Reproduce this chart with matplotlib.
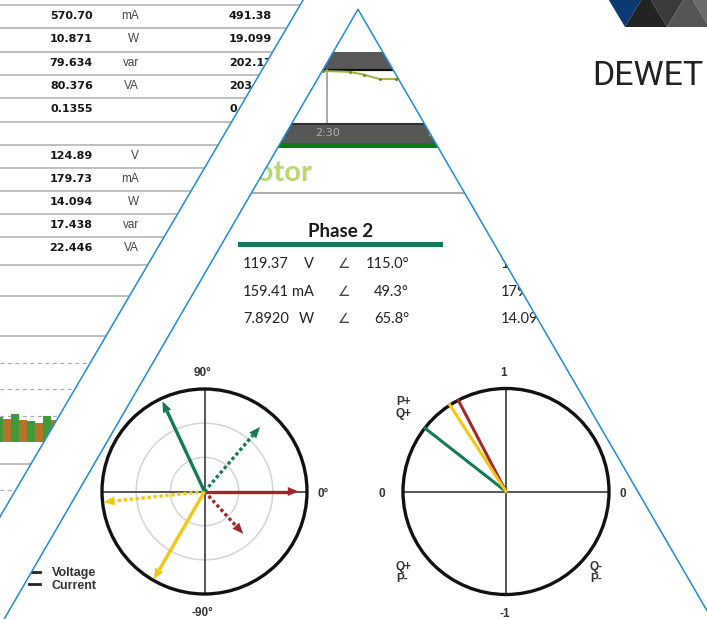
import numpy as np
import matplotlib.pyplot as plt
from matplotlib.patches import Polygon, Circle, Rectangle

# ---- left table (screenshot behind the first diagonal) ----
tbl1_vals = ["570.70", "10.871", "79.634", "80.376", "0.1355"]
tbl1_units = ["mA", "W", "var", "VA", ""]
tbl1_right = ["491.38", "19.099", "202.17", "203.08", "0.0941"]
tbl2_vals = ["124.89", "179.73", "14.094", "17.438", "22.446"]
tbl2_units = ["V", "mA", "W", "var", "VA"]

# small bar chart (harmonics) under the table
bar_heights = [25, 23, 28, 22, 21, 19, 26, 22]
bar_colors = ["#3d9a36", "#b5722a"] * 4

# trend strip at the top of the triangle
trend_t = [0, 1.0, 1.5, 2.1, 2.7, 3.5]
trend_v = [0.0, 0.05, 0.2, 0.45, 0.45, 0.45]

# Phase 2 readout + clipped Phase 3 column
ph2_vals = ["119.37", "159.41", "7.8920"]
ph2_units = ["V", "mA", "W"]
ph2_angles = ["115.0°", "49.3°", "65.8°"]
ph3_vals = ["124.89", "179.73", "14.094"]
ph3_units = ["V", "mA", "W"]

# phasor diagram: L1 red, L2 green, L3 yellow
phase_colors = ["#a0282a", "#137a56", "#f2c714"]
volt_ang = [0, 115.0, -120]
volt_mag = [0.92, 0.97, 0.99]
curr_ang = [-47.5, 49.3, -174]
curr_mag = [0.56, 0.83, 0.99]

# power factor diagram (same phase order)
pf_ang = [117.6, 142.0, 123.0]

W, H = 707, 619
fig = plt.figure(figsize=(W / 100, H / 100), dpi=100)
ax = fig.add_axes([0, 0, 1, 1])
ax.set_xlim(0, W)
ax.set_ylim(H, 0)
ax.axis('off')

blue = '#1f8ad8'
apex = (358, 9.3)
sl = 0.58
a_top, a_slope = 306, -0.5865   # first diagonal: x = a_top + a_slope * (y + 5)

L = dict(zorder=1)     # left screenshot
T = dict(zorder=3)     # triangle screenshot

tri_clip = Polygon([apex, (apex[0] + sl * 671, 680), (apex[0] - sl * 671, 680)],
                   closed=True, transform=ax.transData)

# ---------------- left screenshot ----------------
rows1 = [16, 39, 63, 86, 109]
rows2 = [156, 179, 202, 225, 248]
num = dict(fontsize=8, fontweight='bold', family='DejaVu Sans', color='#151515', **L)
unit = dict(fontsize=8.5, family='Liberation Sans', color='#444444', **L)
for y, v, u, r in zip(rows1, tbl1_vals, tbl1_units, tbl1_right):
    ax.text(93, y, v, ha='right', va='center', **num)
    ax.text(139, y, u, ha='right', va='center', **unit)
    ax.text(272, y, r, ha='right', va='center', **num)
for y, v, u in zip(rows2, tbl2_vals, tbl2_units):
    ax.text(93, y, v, ha='right', va='center', **num)
    ax.text(139, y, u, ha='right', va='center', **unit)

for y in [5, 28, 52, 75, 98, 122, 145, 168, 191, 214, 237, 265, 296, 336, 464]:
    ax.plot([0, 320], [y, y], color='#b4b4b4', lw=1.2, **L)
for y in [363, 389, 416, 490]:
    ax.plot([0, 320], [y, y], color='#a8a8a8', lw=0.9, ls=(0, (3, 3)), **L)

bar_x = [-1 + 8 * i for i in range(len(bar_heights))]
ax.bar(bar_x, [-h for h in bar_heights], bottom=442, width=8,
       color=bar_colors, linewidth=0, **L)

# white mask: everything right of the first diagonal
ax.add_patch(Polygon([(a_top, -5), (W + 20, -5), (W + 20, 680), (a_top + a_slope * 685, 680)],
                     closed=True, color='white', lw=0, zorder=2))

# ---------------- triangle screenshot ----------------
ax.add_patch(Rectangle((0, 52), W, 18, color='#585858', lw=0, **T))
ax.plot([0, W], [70, 70], color='#111111', lw=1.6, **T)
ax.plot([327, 327], [70, 123], color='#9a9a9a', lw=1.2, **T)
tx = [323 + 27 * t for t in trend_t]
ty = [71 + 18 * v for v in trend_v]
ax.plot(tx, ty, color='#9cb43c', lw=1.4, marker='o', ms=1.2, mfc='#6d8a28', mec='#6d8a28', **T)
ax.add_patch(Rectangle((0, 123), W, 20, color='#575757', lw=0, **T))
ax.plot([0, W], [123.5, 123.5], color='#333333', lw=1.5, **T)
ax.add_patch(Rectangle((0, 143), W, 4.5, color='#0c7c10', lw=0, **T))
ax.text(327, 133, "2:30", ha='center', va='center', fontsize=8,
        family='DejaVu Sans', color='#b0b0b0', **T)
ax.text(427, 133, "2:40", ha='left', va='center', fontsize=8,
        family='DejaVu Sans', color='#b0b0b0', **T)

ax.text(312, 181, "Motor", ha='right', va='baseline', fontsize=21, fontweight='bold',
        family='Lato', color='#b8d96c', **T)
ax.plot([0, W], [193, 193], color='#ababab', lw=1.4, **T)

ax.text(341, 237, "Phase 2", ha='center', va='baseline', fontsize=13.5, fontweight='bold',
        family='Lato', color='#1a1a1a', **T)
ax.add_patch(Rectangle((238, 242), 205, 5, color='#127a5a', lw=0, **T))

row_base = [268, 296, 323]
rd = dict(fontsize=10.5, family=['Lato', 'DejaVu Sans'], color='#222222', va='baseline', **T)
for y, v, u, a in zip(row_base, ph2_vals, ph2_units, ph2_angles):
    ax.text(243, y, v, ha='left', **rd)
    ax.text(314, y, u, ha='right', **rd)
    ax.text(344, y, "∠", ha='center', **dict(rd, fontsize=10, color='#444444'))
    ax.text(409, y, a, ha='right', **rd)
for y, v, u in zip(row_base, ph3_vals, ph3_units):
    ax.text(501, y, v, ha='left', **rd)
    ax.text(572, y, u, ha='right', **rd)


def vec(cx, cy, R, ang, mag, color, dotted):
    th = np.deg2rad(ang)
    ux, uy = np.cos(th), -np.sin(th)
    ln = R * mag
    hl, hw = 11, 4.5
    bx, by = cx + ux * (ln - hl), cy + uy * (ln - hl)
    ls = (0, (1, 0.8)) if dotted else '-'
    ax.plot([cx, bx], [cy, by], color=color, lw=2.4, ls=ls, solid_capstyle='butt', **T)
    tip = (cx + ux * ln, cy + uy * ln)
    ax.add_patch(Polygon([tip, (bx - uy * hw, by + ux * hw), (bx + uy * hw, by - ux * hw)],
                         closed=True, color=color, lw=0, **T))


lab = dict(fontsize=8.5, fontweight='bold', family='Liberation Sans', color='#333333', **T)

# left phasor diagram
cx, cy, R = 204.5, 491.5, 102.5
for f in [1 / 3, 2 / 3]:
    ax.add_patch(Circle((cx, cy), R * f, fill=False, ec='#d4d4d4', lw=1.1, **T))
ax.plot([cx - R, cx + R], [cy, cy], color='#555555', lw=1.4, **T)
ax.plot([cx, cx], [cy - R, cy + R], color='#555555', lw=1.4, **T)
ax.add_patch(Circle((cx, cy), R, fill=False, ec='#111111', lw=2.4, **T))
for c, a, m in zip(phase_colors, curr_ang, curr_mag):
    vec(cx, cy, R, a, m, c, True)
for c, a, m in zip(phase_colors, volt_ang, volt_mag):
    vec(cx, cy, R, a, m, c, False)
ax.text(203, 373, "90°", ha='center', va='center', **lab)
ax.text(318, 494, "0°", ha='left', va='center', **lab)
ax.text(202, 613, "-90°", ha='center', va='center', **lab)

# legend (partly cut by the triangle edge)
ax.plot([29, 40], [572, 572], color='#222222', lw=2, **T)
ax.plot([29, 40], [584, 584], color='#222222', lw=2, **T)
ax.text(52, 573, "Voltage", ha='left', va='center', **dict(lab, fontsize=9))
ax.text(52, 586, "Current", ha='left', va='center', **dict(lab, fontsize=9))

# right power factor diagram
cx2, cy2, R2 = 506, 491.5, 103
ax.plot([cx2 - R2, cx2 + R2], [cy2, cy2], color='#555555', lw=1.4, **T)
ax.plot([cx2, cx2], [cy2 - R2, cy2 + R2], color='#555555', lw=1.4, **T)
ax.add_patch(Circle((cx2, cy2), R2, fill=False, ec='#111111', lw=2.4, **T))
for c, a in zip(phase_colors, pf_ang):
    th = np.deg2rad(a)
    ax.plot([cx2, cx2 + R2 * np.cos(th)], [cy2, cy2 - R2 * np.sin(th)], color=c, lw=2.2, **T)
ax.text(504, 373, "1", ha='center', va='center', **lab)
ax.text(382, 494, "0", ha='center', va='center', **lab)
ax.text(623, 494, "0", ha='center', va='center', **lab)
ax.text(505, 614, "-1", ha='center', va='center', **lab)
ax.text(396, 408, "P+\nQ+", ha='left', va='center', linespacing=0.95, **lab)
ax.text(396, 573, "Q+\nP-", ha='left', va='center', linespacing=0.95, **lab)
ax.text(590, 573, "Q-\nP-", ha='left', va='center', linespacing=0.95, **lab)

# lines and patches of the triangle screenshot get clipped to the triangle
for art in list(ax.lines) + list(ax.patches):
    if art.get_zorder() == 3:
        art.set_clip_path(tri_clip)

# white mask for texts: right of the first diagonal but outside the triangle
ax.add_patch(Polygon([(a_top, -5), (W + 20, -5), (W + 20, 680),
                      (apex[0] + sl * 671, 680), apex, (apex[0] - sl * 671, 680),
                      (a_top + a_slope * 685, 680)],
                     closed=True, color='white', lw=0, zorder=4))

# ---------------- logo ----------------
logo_down = [(625, '#0b3a75'), (667, '#3a3a3a'), (709, '#6c6c6c')]
logo_up = [(646, '#232323'), (688, '#555555')]
for x, c in logo_down:
    ax.add_patch(Polygon([(x - 21, -8), (x + 21, -8), (x, 27)], closed=True, color=c, lw=0, zorder=5))
for x, c in logo_up:
    ax.add_patch(Polygon([(x - 21, 27), (x + 21, 27), (x, -8)], closed=True, color=c, lw=0, zorder=5))
ax.text(592, 85, "DEWET", ha='left', va='baseline', fontsize=24.5, family='Roboto',
        color='#222222', zorder=5)

# ---------------- diagonal guide lines ----------------
ax.plot([a_top, a_top + a_slope * 685], [-5, 680], color=blue, lw=1.1, zorder=6)
ax.plot([apex[0] - sl * 671, apex[0], apex[0] + sl * 671],
        [680, apex[1], 680], color=blue, lw=1.1, zorder=6)

plt.savefig('out.png', dpi=100)
